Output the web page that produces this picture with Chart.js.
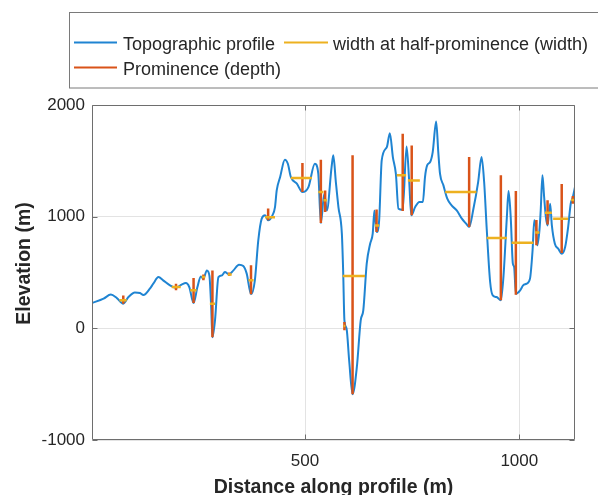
<!DOCTYPE html>
<html><head><meta charset="utf-8">
<script src="https://cdn.jsdelivr.net/npm/chart.js@4"></script>
<style>html,body{margin:0;padding:0;background:#fff}canvas{display:block}</style>
</head><body>
<canvas id="c" width="598" height="495"></canvas>
<script>
// ---- data ----
const profileX = [3,30,47,61,76,88,103,115,123,138,
  146,158,169,185,199,212,222,230,240,249,
  257,263,271,277,281,284,290,298,306,313,
  323,333,346,356,364,374,383,391,399,407,
  414,424,430,434,442,453,460,467,481,494,
  508,523,531,537,545,551,562,566,572,578,
  586,589,592,597,603,611,621,630,636,644,
  652,658,662,667,673,679,691,698,705,712,
  718,728,737,743,748,757,767,775,780,785,
  792,798,806,811,815,823,832,842,854,866,
  876,883,893,904,912,918,924,932,938,947,
  957,963,971,975,980,985,988,992,1002,1009,
  1017,1025,1031,1035,1039,1042,1047,1050,1054,1058,
  1062,1066,1072,1076,1083,1091,1099,1107,1114,1120,
  1125,1130];
const profileY = [226,266,302,271,221,280,322,316,298,355,
  400,459,430,385,364,391,405,370,226,370,
  465,445,519,470,200,-80,72,459,474,504,
  483,519,570,558,490,305,430,788,982,1012,
  967,1012,1086,1235,1355,1510,1474,1355,1295,1220,
  1265,1474,1385,943,1206,1056,1444,1549,1310,1086,
  848,519,72,-3,-286,-590,-346,72,161,579,
  758,848,1056,862,967,1504,1623,1748,1534,1385,
  1071,1062,1629,1325,1012,1086,1131,1131,1355,1459,
  1489,1578,1853,1578,1385,1280,1161,1101,1056,982,
  937,907,1071,1310,1534,1310,892,415,295,280,
  251,459,996,1229,996,579,549,310,340,385,
  400,445,698,967,907,743,877,1056,1370,1176,
  996,922,1116,922,758,713,668,728,907,1116,
  1176,1265];

const promX    = [76,199,240,263,284,323,374,414,494,537,547,592,611,667,728,749,883,957,992,1040,1066,1099,1125];
const promLow  = [221,340,226,430,-80,468,305,967,1220,943,1041,-18,-590,862,1050,1012,907,251,300,743,930,675,1116];
const promHigh = [295,400,450,483,519,501,564,1074,1480,1510,1235,57,1549,1065,1742,1638,1534,1370,1229,970,1146,1292,1186];

const widthY     = [251,370,340,459,221,483,430,994,1346,1220,1146,20,468,922,1370,1325,1220,808,767,858,1035,982,1150];
const widthLeft  = [67,189,232,259,278,320,368,407,467,531,543,590,588,663,714,740,827,924,982,1037,1060,1079,1121];
const widthRight = [84,210,247,267,290,329,380,430,516,543,551,594,640,673,736,768,900,971,1033,1047,1076,1114,1129];

const xTickValues = [500, 1000];
const yTickValues = [-1000, 0, 1000, 2000];
const seriesLabels = ['Topographic profile', 'width at half-prominence (width)', 'Prominence (depth)'];
const xTitle = 'Distance along profile (m)';
const yTitle = 'Elevation (m)';

// ---- build library data ----
const profilePts = profileX.map((x, i) => ({x: x, y: profileY[i]}));
const promPts = [];
promX.forEach((x, i) => { promPts.push({x: x, y: promLow[i]}, {x: x, y: promHigh[i]}, {x: x, y: null}); });
const widthPts = [];
widthY.forEach((y, i) => { widthPts.push({x: widthLeft[i], y: y}, {x: widthRight[i], y: y}, {x: widthRight[i], y: null}); });

const BLUE = '#1f84d2', RED = '#D95319', YELLOW = '#EDB120';
const TEXT = '#262626', AXIS = '#6e6e6e', GRID = '#e3e3e3';
const FONT = "'Liberation Sans', Arial, sans-serif";
Chart.defaults.font.family = FONT;

const boxPlugin = {
  id: 'boxPlugin',
  afterDatasetsDraw(chart) {
    const {ctx, chartArea: a, scales} = chart;
    ctx.save();
    ctx.strokeStyle = AXIS; ctx.lineWidth = 1;
    const L = Math.round(a.left) + 0.5, R = Math.round(a.right) - 0.5;
    const T = Math.round(a.top) + 0.5, B = Math.round(a.bottom) - 0.5;
    ctx.beginPath();
    ctx.rect(L, T, R - L, B - T);
    xTickValues.forEach(v => {
      const p = Math.round(scales.x.getPixelForValue(v)) + 0.5;
      ctx.moveTo(p, B); ctx.lineTo(p, B - 5);
      ctx.moveTo(p, T); ctx.lineTo(p, T + 5);
    });
    yTickValues.forEach(v => {
      const p = Math.round(scales.y.getPixelForValue(v)) + 0.5;
      ctx.moveTo(L, p); ctx.lineTo(L + 5, p);
      ctx.moveTo(R, p); ctx.lineTo(R - 5, p);
    });
    ctx.stroke();
    // y-axis title (MATLAB places it slightly above the axis centre here)
    ctx.fillStyle = TEXT;
    ctx.font = "bold 19.5px " + FONT;
    ctx.textAlign = 'center';
    ctx.textBaseline = 'middle';
    ctx.translate(25, (a.top + a.bottom) / 2 - 9);
    ctx.rotate(-Math.PI / 2);
    ctx.fillText(yTitle, 0, 0);
    ctx.restore();
  }
};

const legendPlugin = {
  id: 'boxLegend',
  afterDraw(chart) {
    const ctx = chart.ctx;
    ctx.save();
    ctx.fillStyle = '#ffffff';
    ctx.fillRect(69.5, 12.5, 540, 75.5);
    ctx.strokeStyle = '#7a7a7a'; ctx.lineWidth = 1;
    ctx.strokeRect(69.5, 12.5, 540, 75.5);
    const items = [
      {ds: 0, x: 74, w: 43, tx: 123, y: 42.5},
      {ds: 1, x: 284, w: 44, tx: 333, y: 42.5},
      {ds: 2, x: 74, w: 43, tx: 123, y: 67.5}
    ];
    ctx.font = "18px " + FONT;
    ctx.textBaseline = 'alphabetic';
    ctx.textAlign = 'left';
    items.forEach(it => {
      const ds = chart.data.datasets[it.ds];
      ctx.strokeStyle = ds.borderColor; ctx.lineWidth = 2;
      ctx.beginPath(); ctx.moveTo(it.x, it.y); ctx.lineTo(it.x + it.w, it.y); ctx.stroke();
      ctx.fillStyle = TEXT;
      ctx.fillText(ds.label, it.tx, it.y + 7);
    });
    ctx.restore();
  }
};

new Chart(document.getElementById('c'), {
  type: 'line',
  data: {
    datasets: [
      {label: seriesLabels[0], data: profilePts, borderColor: BLUE, borderWidth: 2, pointRadius: 0,
       cubicInterpolationMode: 'monotone', order: 3},
      {label: seriesLabels[1], data: widthPts, borderColor: YELLOW, borderWidth: 2.5, pointRadius: 0,
       tension: 0, spanGaps: false, order: 1},
      {label: seriesLabels[2], data: promPts, borderColor: RED, borderWidth: 2.5, pointRadius: 0,
       tension: 0, spanGaps: false, order: 2}
    ]
  },
  options: {
    responsive: false,
    animation: false,
    devicePixelRatio: 1,
    layout: {padding: {top: 105, right: 23, left: 0, bottom: 0}},
    plugins: {legend: {display: false}, tooltip: {enabled: false}},
    scales: {
      x: {
        type: 'linear', min: 3, max: 1130,
        afterBuildTicks: s => { s.ticks = xTickValues.map(v => ({value: v})); },
        afterFit: s => { s.height = 55; },
        grid: {color: GRID, drawTicks: false, lineWidth: 1},
        border: {display: false},
        ticks: {color: TEXT, font: {size: 17}, padding: 11, maxRotation: 0, callback: v => String(v)},
        title: {display: true, text: xTitle, color: TEXT, font: {size: 19.5, weight: 'bold'}, padding: {top: 0, bottom: -4}}
      },
      y: {
        type: 'linear', min: -1000, max: 2000,
        afterBuildTicks: s => { s.ticks = yTickValues.map(v => ({value: v})); },
        afterFit: s => { s.width = 92; },
        grid: {color: GRID, drawTicks: false, lineWidth: 1},
        border: {display: false},
        ticks: {color: TEXT, font: {size: 17}, padding: 7, callback: v => String(v)},
        title: {display: false, text: yTitle}
      }
    }
  },
  plugins: [boxPlugin, legendPlugin]
});
</script>
</body></html>
